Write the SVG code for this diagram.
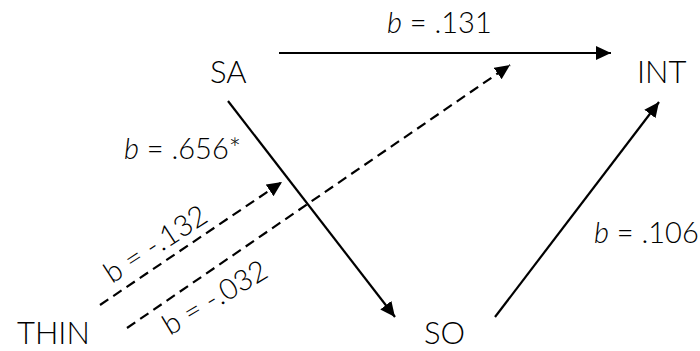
<svg xmlns="http://www.w3.org/2000/svg" width="700" height="351" viewBox="0 0 700 351">
<style>
  text { font-family: Lato, "Open Sans", "Liberation Sans", sans-serif; font-weight: 300; fill: #000; }
  .node { font-size: 31px; }
  .lab { font-size: 29px; }
  .i { font-style: italic; }
  .edge { stroke: #000; stroke-width: 2.2; fill: none; }
  .dash { stroke-dasharray: 10 6; }
</style>
<defs>
  <marker id="arr" markerUnits="userSpaceOnUse" markerWidth="16" markerHeight="15" refX="15" refY="7" orient="auto">
    <path d="M0,0 L15,7 L0,14 z" fill="#000"/>
  </marker>
</defs>
<rect width="700" height="351" fill="#fff"/>
<g id="connectors">
  <line class="edge" x1="279" y1="53" x2="611" y2="53" marker-end="url(#arr)"/>
  <line class="edge" x1="228" y1="101" x2="395" y2="317" marker-end="url(#arr)"/>
  <line class="edge" x1="495" y1="317" x2="659" y2="102" marker-end="url(#arr)"/>
  <line class="edge dash" x1="100" y1="305" x2="282" y2="182" marker-end="url(#arr)"/>
  <line class="edge dash" x1="127" y1="328" x2="510" y2="65" marker-end="url(#arr)"/>
</g>
<g id="labels">
  <text class="lab" x="387" y="33"><tspan class="i">b</tspan> = .131</text>
  <text class="lab" x="124" y="159"><tspan class="i">b</tspan> = .656*</text>
  <text class="lab" x="594" y="243"><tspan class="i">b</tspan> = .106</text>
  <text class="lab" transform="translate(112,284) rotate(-33)">b = -.132</text>
  <text class="lab" transform="translate(170,336) rotate(-31)">b = -.032</text>
</g>
<g id="SA"><text class="node" x="210" y="83">SA</text></g>
<g id="INT"><text class="node" x="637" y="83">INT</text></g>
<g id="THIN"><text class="node" x="17" y="344">THIN</text></g>
<g id="SO"><text class="node" x="424" y="344">SO</text></g>
</svg>
